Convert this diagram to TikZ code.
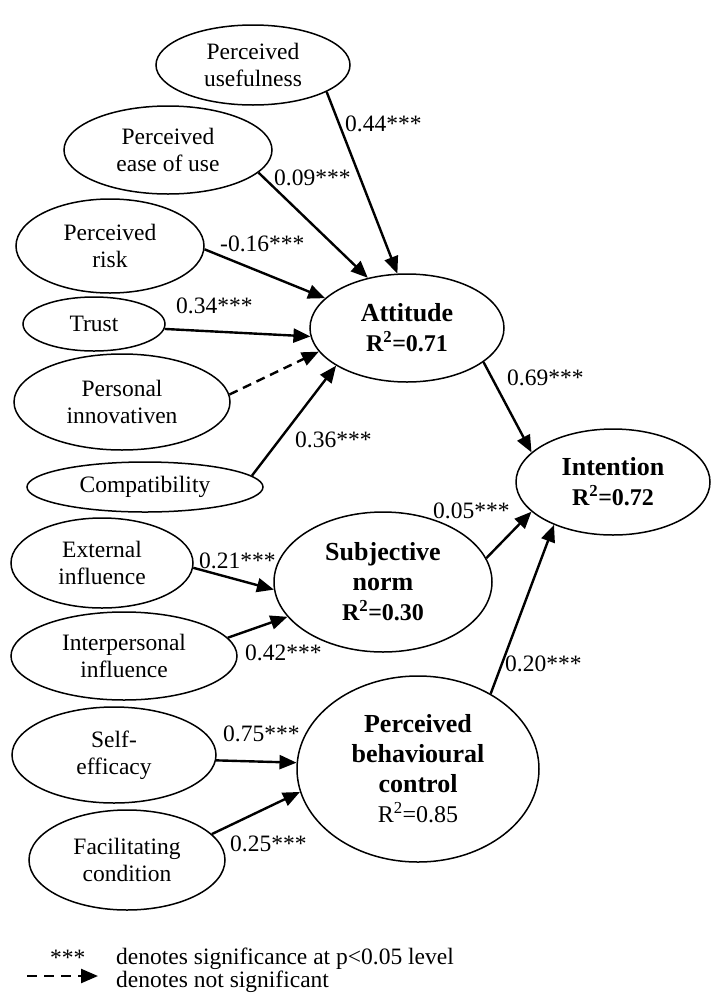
\documentclass[tikz,border=0pt]{standalone}
\usepackage{fontspec}
\setmainfont{Liberation Serif}
\usetikzlibrary{shapes.geometric,arrows.meta}
\begin{document}
\begin{tikzpicture}[x=1pt,y=-1pt,
  lat/.style={ellipse,draw,line width=1.5pt,inner sep=0pt,align=center,font=\fontsize{23.5}{27}\selectfont},
  bold/.style={lat,font=\fontsize{26}{30}\selectfont\bfseries},
  pathline/.style={line width=2.4pt,-{Triangle[length=17pt,width=14pt]}},
  nsline/.style={pathline,dash pattern=on 9pt off 6pt},
  coef/.style={anchor=base west,inner sep=0pt,font=\fontsize{23.5}{27}\selectfont},
  legtext/.style={anchor=base west,inner sep=0pt,font=\fontsize{23.5}{27}\selectfont}]
\useasboundingbox (0,0) rectangle (714,994);

% exogenous constructs
\node[lat,minimum width=194pt,minimum height=80pt] (pu) at (253,65) {Perceived\\usefulness};
\node[lat,minimum width=208pt,minimum height=88pt] (peou) at (168,150) {Perceived\\ease of use};
\node[lat,minimum width=188pt,minimum height=94pt] (risk) at (110,246) {Perceived\\risk};
\node[lat,minimum width=142pt,minimum height=54pt] (trust) at (94,324) {Trust};
\node[lat,minimum width=216pt,minimum height=96pt] (pi) at (122,402) {Personal\\innovativen};
\node[lat,minimum width=236pt,minimum height=50pt] (comp) at (145,487) {Compatibility};
\node[lat,minimum width=182pt,minimum height=90pt] (ext) at (102,563) {External\\influence};
\node[lat,minimum width=226pt,minimum height=88pt] (inter) at (124,656) {Interpersonal\\influence};
\node[lat,minimum width=204pt,minimum height=96pt] (self) at (114,755) {Self-\\efficacy};
\node[lat,minimum width=196pt,minimum height=100pt] (fac) at (127,860) {Facilitating\\condition};

% endogenous constructs
\node[bold,minimum width=194pt,minimum height=108pt] (att) at (407,328)
  {Attitude\\{\fontsize{24}{30}\selectfont R\textsuperscript{2}=0.71}};
\node[bold,minimum width=194pt,minimum height=106pt] (int) at (613,482)
  {Intention\\{\fontsize{24}{30}\selectfont R\textsuperscript{2}=0.72}};
\node[bold,minimum width=218pt,minimum height=140pt] (sn) at (383,582)
  {Subjective\\norm\\{\fontsize{24}{30}\selectfont R\textsuperscript{2}=0.30}};
\node[bold,minimum width=242pt,minimum height=186pt] (pbc) at (418,769)
  {Perceived\\behavioural\\control\\{\fontsize{24}{28}\selectfont\mdseries R\textsuperscript{2}=0.85}};

% paths
\draw[pathline] (pu.-20) -- (att.100);
\draw[pathline] (peou.-14) -- (att.128);
\draw[pathline] (risk.-2) -- (att.160);
\draw[pathline] (trust.-4) -- (att.-175);
\draw[nsline] (pi.4) -- (att.-165);
\draw[pathline] (comp.6) -- (att.-152);
\draw[pathline] (att.-24) -- (int.160);
\draw[pathline] (sn.13) -- (int.-160);
\draw[pathline] (pbc.46) -- (int.-144);
\draw[pathline] (ext.-3) -- (sn.-176);
\draw[pathline] (inter.10) -- (sn.-160);
\draw[pathline] (self.-3) -- (pbc.177);
\draw[pathline] (fac.17) -- (pbc.-169);

% coefficients
\node[coef] (c1) at (345,131) {0.44***};
\node[coef] (c2) at (274,185) {0.09***};
\node[coef] (c3) at (220,251) {-0.16***};
\node[coef] (c4) at (176,313) {0.34***};
\node[coef] (c5) at (295,447) {0.36***};
\node[coef] (c6) at (507,385) {0.69***};
\node[coef] (c7) at (433,518) {0.05***};
\node[coef] (c8) at (505,671) {0.20***};
\node[coef] (c9) at (199,568) {0.21***};
\node[coef] (c10) at (245,660) {0.42***};
\node[coef] (c11) at (223,741) {0.75***};
\node[coef] (c12) at (230,851) {0.25***};

% legend
\node[legtext] (l1) at (50,965) {***};
\node[legtext] (l2) at (116,964) {denotes significance at p<0.05 level};
\node[legtext] (l3) at (116,987) {denotes not significant};
\coordinate (la) at (27,976);
\coordinate (lb) at (98,976);
\draw[nsline,dash pattern=on 10pt off 7pt] (la) -- (lb);
\end{tikzpicture}
\end{document}
